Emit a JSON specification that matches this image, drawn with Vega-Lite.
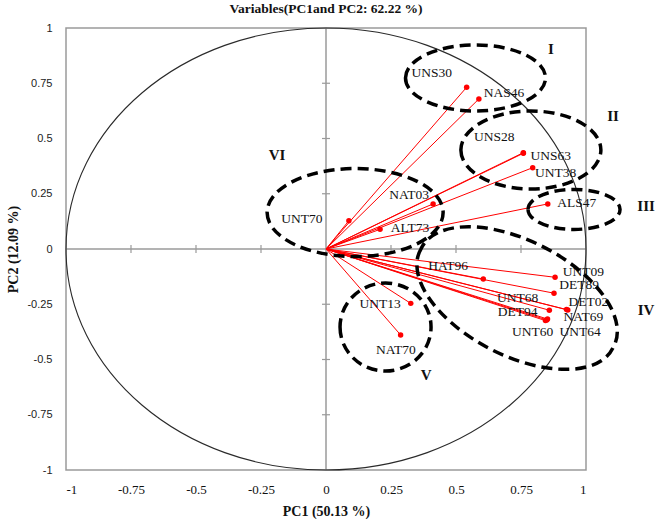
{
  "$schema": "https://vega.github.io/schema/vega-lite/v6.json",
  "width": 520,
  "height": 442,
  "autosize": {"type": "none"},
  "padding": {"left": 66, "top": 28, "right": 75, "bottom": 58},
  "background": "white",
  "config": {
    "view": {"stroke": "#9a9a9a", "strokeWidth": 1.5},
    "font": "Liberation Serif"
  },
  "title": {
    "text": "Variables(PC1and PC2: 62.22 %)",
    "font": "Liberation Serif",
    "fontSize": 13.5,
    "fontWeight": "bold",
    "offset": 7,
    "color": "#111"
  },
  "datasets": {
    "vectors": [
      {"name": "UNS30", "x": 0.541, "y": 0.732},
      {"name": "NAS46", "x": 0.588, "y": 0.679},
      {"name": "UNS28", "x": 0.759, "y": 0.436},
      {"name": "UNS63", "x": 0.759, "y": 0.433},
      {"name": "UNT38", "x": 0.795, "y": 0.368},
      {"name": "ALS47", "x": 0.853, "y": 0.204},
      {"name": "NAT03", "x": 0.412, "y": 0.204},
      {"name": "ALT73", "x": 0.208, "y": 0.089},
      {"name": "UNT70", "x": 0.088, "y": 0.128},
      {"name": "HAT96", "x": 0.605, "y": -0.136},
      {"name": "UNT09", "x": 0.881, "y": -0.128},
      {"name": "DET89", "x": 0.877, "y": -0.2},
      {"name": "DET02", "x": 0.93, "y": -0.276},
      {"name": "NAT69", "x": 0.925, "y": -0.274},
      {"name": "UNT68", "x": 0.859, "y": -0.277},
      {"name": "DET94", "x": 0.849, "y": -0.321},
      {"name": "UNT60", "x": 0.844, "y": -0.324},
      {"name": "UNT64", "x": 0.852, "y": -0.317},
      {"name": "UNT13", "x": 0.326, "y": -0.246},
      {"name": "NAT70", "x": 0.287, "y": -0.389}
    ],
    "labels": [
      {"name": "UNS30", "x": 0.407, "y": 0.795},
      {"name": "NAS46", "x": 0.685, "y": 0.705},
      {"name": "UNS28", "x": 0.647, "y": 0.505},
      {"name": "UNS63", "x": 0.864, "y": 0.421},
      {"name": "UNT38", "x": 0.883, "y": 0.345},
      {"name": "ALS47", "x": 0.964, "y": 0.21},
      {"name": "NAT03", "x": 0.32, "y": 0.244},
      {"name": "ALT73", "x": 0.323, "y": 0.096},
      {"name": "UNT70", "x": -0.093, "y": 0.136},
      {"name": "HAT96", "x": 0.47, "y": -0.077},
      {"name": "UNT09", "x": 0.99, "y": -0.103},
      {"name": "DET89", "x": 0.974, "y": -0.165},
      {"name": "UNT68", "x": 0.737, "y": -0.223},
      {"name": "DET02", "x": 1.009, "y": -0.241},
      {"name": "DET94", "x": 0.737, "y": -0.286},
      {"name": "NAT69", "x": 0.99, "y": -0.306},
      {"name": "UNT60", "x": 0.795, "y": -0.377},
      {"name": "UNT64", "x": 0.977, "y": -0.377},
      {"name": "UNT13", "x": 0.208, "y": -0.25},
      {"name": "NAT70", "x": 0.269, "y": -0.457}
    ],
    "groups": [
      {"group": "I", "cx": 0.575, "cy": 0.774, "lx": 0.865, "ly": 0.905},
      {"group": "II", "cx": 0.788, "cy": 0.448, "lx": 1.104, "ly": 0.602},
      {"group": "III", "cx": 0.954, "cy": 0.179, "lx": 1.231, "ly": 0.195},
      {"group": "IV", "cx": 0.735, "cy": -0.222, "lx": 1.231, "ly": -0.276},
      {"group": "V", "cx": 0.229, "cy": -0.353, "lx": 0.385, "ly": -0.57},
      {"group": "VI", "cx": 0.112, "cy": 0.165, "lx": -0.188, "ly": 0.425}
    ],
    "ticks": [
      {"v": -0.75}, {"v": -0.5}, {"v": -0.25}, {"v": 0.25}, {"v": 0.5}, {"v": 0.75}
    ],
    "origin": [{"x": 0, "y": 0}]
  },
  "layer": [
    {
      "data": {"name": "origin"},
      "mark": {"type": "rule", "color": "#9a9a9a", "strokeWidth": 1.5},
      "encoding": {
        "x": {"field": "x", "type": "quantitative"}
      }
    },
    {
      "data": {"name": "origin"},
      "mark": {"type": "rule", "color": "#9a9a9a", "strokeWidth": 1.5},
      "encoding": {
        "y": {"field": "y", "type": "quantitative"}
      }
    },
    {
      "data": {"name": "ticks"},
      "mark": {"type": "tick", "orient": "vertical", "color": "#9a9a9a", "size": 8, "thickness": 1.2, "opacity": 1},
      "encoding": {
        "x": {"field": "v", "type": "quantitative"},
        "y": {"datum": 0, "type": "quantitative"}
      }
    },
    {
      "data": {"name": "ticks"},
      "mark": {"type": "tick", "orient": "horizontal", "color": "#9a9a9a", "size": 8, "thickness": 1.2, "opacity": 1},
      "encoding": {
        "y": {"field": "v", "type": "quantitative"},
        "x": {"datum": 0, "type": "quantitative"}
      }
    },
    {
      "data": {"name": "origin"},
      "mark": {
        "type": "point",
        "shape": "M -260 0 A 260 221 0 1 0 260 0 A 260 221 0 1 0 -260 0 Z",
        "size": 4,
        "filled": false,
        "stroke": "#2a2a2a",
        "strokeWidth": 1.1,
        "opacity": 1
      },
      "encoding": {
        "x": {"field": "x", "type": "quantitative"},
        "y": {"field": "y", "type": "quantitative"}
      }
    },
    {
      "data": {"name": "vectors"},
      "mark": {"type": "rule", "color": "#ff0000", "strokeWidth": 1},
      "encoding": {
        "x": {
          "field": "x", "type": "quantitative",
          "scale": {"domain": [-1, 1], "nice": false, "zero": false},
          "axis": {
            "title": "PC1 (50.13 %)",
            "values": [-1, -0.75, -0.5, -0.25, 0, 0.25, 0.5, 0.75, 1],
            "labelExpr": "datum.value < 0 ? '-' + format(-datum.value, '~g') : format(datum.value, '~g')",
            "domain": false, "ticks": false, "grid": false,
            "labelPadding": 13,
            "labelFont": "Liberation Serif", "labelFontSize": 13, "labelColor": "#111",
            "titleFont": "Liberation Serif", "titleFontSize": 14, "titleFontWeight": "bold", "titleColor": "#111",
            "titlePadding": 8
          }
        },
        "y": {
          "field": "y", "type": "quantitative",
          "scale": {"domain": [-1, 1], "nice": false, "zero": false},
          "axis": {
            "title": "PC2 (12.09 %)",
            "values": [-1, -0.75, -0.5, -0.25, 0, 0.25, 0.5, 0.75, 1],
            "labelExpr": "datum.value < 0 ? '-' + format(-datum.value, '~g') : format(datum.value, '~g')",
            "domain": false, "ticks": false, "grid": false,
            "labelPadding": 14,
            "labelFont": "Liberation Sans", "labelFontSize": 11, "labelColor": "#222",
            "titleFont": "Liberation Serif", "titleFontSize": 14, "titleFontWeight": "bold", "titleColor": "#111",
            "titlePadding": 6
          }
        },
        "x2": {"datum": 0},
        "y2": {"datum": 0}
      }
    },
    {
      "data": {"name": "vectors"},
      "mark": {"type": "circle", "color": "#ff0000", "size": 30, "opacity": 1},
      "encoding": {
        "x": {"field": "x", "type": "quantitative"},
        "y": {"field": "y", "type": "quantitative"}
      }
    },
    {
      "data": {"name": "labels"},
      "mark": {"type": "text", "font": "Liberation Serif", "fontSize": 13.5, "color": "#111", "align": "center", "baseline": "middle"},
      "encoding": {
        "x": {"field": "x", "type": "quantitative"},
        "y": {"field": "y", "type": "quantitative"},
        "text": {"field": "name"}
      }
    },
    {
      "data": {"name": "groups"},
      "mark": {
        "type": "point",
        "size": 4,
        "filled": false,
        "stroke": "#000000",
        "strokeWidth": 3.5,
        "strokeDash": [11, 6],
        "opacity": 1
      },
      "encoding": {
        "x": {"field": "cx", "type": "quantitative"},
        "y": {"field": "cy", "type": "quantitative"},
        "shape": {
          "field": "group", "type": "nominal",
          "scale": {
            "domain": ["I", "II", "III", "IV", "V", "VI"],
            "range": [
              "M -70 0 A 70 33 0 1 0 70 0 A 70 33 0 1 0 -70 0 Z",
              "M -70 0 A 70 39 0 1 0 70 0 A 70 39 0 1 0 -70 0 Z",
              "M -46 0 A 46 20 0 1 0 46 0 A 46 20 0 1 0 -46 0 Z",
              "M -96.2 -49 A 108 56 27 1 0 96.2 49 A 108 56 27 1 0 -96.2 -49 Z",
              "M -45.5 0 A 45.5 44 0 1 0 45.5 0 A 45.5 44 0 1 0 -45.5 0 Z",
              "M -88 0 A 88 44 0 1 0 88 0 A 88 44 0 1 0 -88 0 Z"
            ]
          },
          "legend": null
        }
      }
    },
    {
      "data": {"name": "groups"},
      "mark": {"type": "text", "font": "Liberation Serif", "fontSize": 15, "fontWeight": "bold", "color": "#111", "align": "center", "baseline": "middle"},
      "encoding": {
        "x": {"field": "lx", "type": "quantitative"},
        "y": {"field": "ly", "type": "quantitative"},
        "text": {"field": "group"}
      }
    }
  ]
}
